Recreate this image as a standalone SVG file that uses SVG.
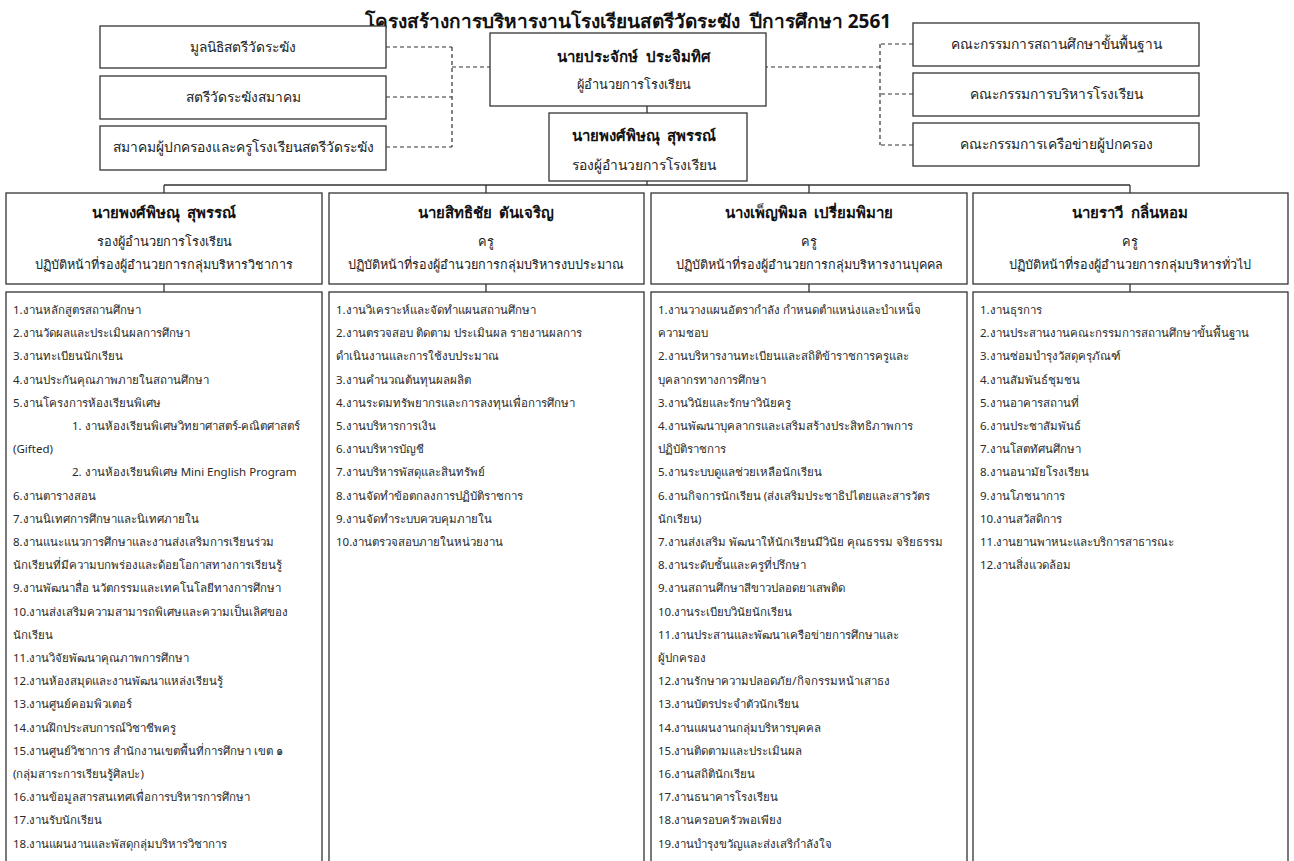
<svg xmlns="http://www.w3.org/2000/svg" width="1294" height="861" viewBox="0 0 1294 861">
<style>
.bx{fill:#fff;stroke:#333;stroke-width:1.3}
.ln{fill:none;stroke:#333;stroke-width:1.3}
.ds{fill:none;stroke:#333;stroke-width:1.2;stroke-dasharray:4 3}
text{font-family:"Noto Sans","DejaVu Sans",sans-serif;fill:#222}
.t{font-size:19px;font-weight:bold;text-anchor:middle;fill:#111}
.c{font-size:13.8px;text-anchor:middle}
.s{font-size:12.8px;text-anchor:middle}
.n{font-size:15px;font-weight:bold;text-anchor:middle;fill:#111}
.r{font-size:12.8px;text-anchor:middle}
.p{font-size:12.6px;text-anchor:middle}
.l{font-size:11.5px;fill:#2a2a2a}
</style>
<rect width="1294" height="861" fill="#fff"/>
<text class="t" x="628" y="28">โครงสร้างการบริหารงานโรงเรียนสตรีวัดระฆัง&#160; ปีการศึกษา 2561</text>

<g id="connectors">
<path class="ds" d="M386 47H452M386 97H452M386 147H452M452 47V147M452 67H490"/>
<path class="ds" d="M913 44H880M913 94H880M913 145H880M880 44V145M880 67H766"/>
<path class="ln" d="M647 106V113M647 181V185M164 185H1130M164 185V193M486 185V193M809 185V193M1130 185V193"/>
<path class="ln" d="M164 284V292M486 284V292M809 284V292M1130 284V292"/>
</g>

<g id="n-foundation"><rect class="bx" x="100" y="26" width="286" height="42"/><text class="c" x="243" y="52">มูลนิธิสตรีวัดระฆัง</text></g>
<g id="n-association"><rect class="bx" x="100" y="76" width="286" height="43"/><text class="c" x="243" y="102">สตรีวัดระฆังสมาคม</text></g>
<g id="n-parents"><rect class="bx" x="100" y="126" width="286" height="44"/><text class="c" x="243" y="152">สมาคมผู้ปกครองและครูโรงเรียนสตรีวัดระฆัง</text></g>

<g id="n-board1"><rect class="bx" x="913" y="23" width="286" height="43"/><text class="c" x="1056" y="49">คณะกรรมการสถานศึกษาขั้นพื้นฐาน</text></g>
<g id="n-board2"><rect class="bx" x="913" y="73" width="286" height="43"/><text class="c" x="1056" y="99">คณะกรรมการบริหารโรงเรียน</text></g>
<g id="n-board3"><rect class="bx" x="913" y="123" width="286" height="43"/><text class="c" x="1056" y="149">คณะกรรมการเครือข่ายผู้ปกครอง</text></g>

<g id="n-director"><rect class="bx" x="490" y="33" width="276" height="73"/><text class="n" x="634" y="62">นายประจักษ์&#160; ประจิมทิศ</text><text class="s" x="634" y="89">ผู้อำนวยการโรงเรียน</text></g>
<g id="n-deputy"><rect class="bx" x="549" y="113" width="198" height="68"/><text class="n" x="644" y="141">นายพงศ์พิษณุ&#160; สุพรรณ์</text><text class="c" x="644" y="170">รองผู้อำนวยการโรงเรียน</text></g>

<g id="n-head1"><rect class="bx" x="6" y="193" width="316" height="91"/><text class="n" x="164" y="218">นายพงศ์พิษณุ&#160; สุพรรณ์</text><text class="r" x="164" y="246">รองผู้อำนวยการโรงเรียน</text><text class="p" x="164" y="269">ปฏิบัติหน้าที่รองผู้อำนวยการกลุ่มบริหารวิชาการ</text></g>
<g id="n-head2"><rect class="bx" x="329" y="193" width="315" height="91"/><text class="n" x="486" y="218">นายสิทธิชัย&#160; ตันเจริญ</text><text class="r" x="486" y="246">ครู</text><text class="p" x="486" y="269">ปฏิบัติหน้าที่รองผู้อำนวยการกลุ่มบริหารงบประมาณ</text></g>
<g id="n-head3"><rect class="bx" x="651" y="193" width="316" height="91"/><text class="n" x="809" y="218">นางเพ็ญพิมล&#160; เปรี่ยมพิมาย</text><text class="r" x="809" y="246">ครู</text><text class="p" x="809" y="269">ปฏิบัติหน้าที่รองผู้อำนวยการกลุ่มบริหารงานบุคคล</text></g>
<g id="n-head4"><rect class="bx" x="973" y="193" width="315" height="91"/><text class="n" x="1130" y="218">นายราวี&#160; กลิ่นหอม</text><text class="r" x="1130" y="246">ครู</text><text class="p" x="1130" y="269">ปฏิบัติหน้าที่รองผู้อำนวยการกลุ่มบริหารทั่วไป</text></g>

<g id="n-list1"><rect class="bx" x="6" y="292" width="316" height="580"/>
<text class="l" x="13" y="314">1.งานหลักสูตรสถานศึกษา</text>
<text class="l" x="13" y="337.2">2.งานวัดผลและประเมินผลการศึกษา</text>
<text class="l" x="13" y="360.4">3.งานทะเบียนนักเรียน</text>
<text class="l" x="13" y="383.6">4.งานประกันคุณภาพภายในสถานศึกษา</text>
<text class="l" x="13" y="406.8">5.งานโครงการห้องเรียนพิเศษ</text>
<text class="l" x="72" y="430">1. งานห้องเรียนพิเศษวิทยาศาสตร์-คณิตศาสตร์</text>
<text class="l" x="13" y="453.2">(Gifted)</text>
<text class="l" x="72" y="476.4">2. งานห้องเรียนพิเศษ Mini English Program</text>
<text class="l" x="13" y="499.6">6.งานตารางสอน</text>
<text class="l" x="13" y="522.8">7.งานนิเทศการศึกษาและนิเทศภายใน</text>
<text class="l" x="13" y="546">8.งานแนะแนวการศึกษาและงานส่งเสริมการเรียนร่วม</text>
<text class="l" x="13" y="569.2">นักเรียนที่มีความบกพร่องและด้อยโอกาสทางการเรียนรู้</text>
<text class="l" x="13" y="592.4">9.งานพัฒนาสื่อ นวัตกรรมและเทคโนโลยีทางการศึกษา</text>
<text class="l" x="13" y="615.6">10.งานส่งเสริมความสามารถพิเศษและความเป็นเลิศของ</text>
<text class="l" x="13" y="638.8">นักเรียน</text>
<text class="l" x="13" y="662">11.งานวิจัยพัฒนาคุณภาพการศึกษา</text>
<text class="l" x="13" y="685.2">12.งานห้องสมุดและงานพัฒนาแหล่งเรียนรู้</text>
<text class="l" x="13" y="708.4">13.งานศูนย์คอมพิวเตอร์</text>
<text class="l" x="13" y="731.6">14.งานฝึกประสบการณ์วิชาชีพครู</text>
<text class="l" x="13" y="754.8">15.งานศูนย์วิชาการ สำนักงานเขตพื้นที่การศึกษา เขต ๑</text>
<text class="l" x="13" y="778">(กลุ่มสาระการเรียนรู้ศิลปะ)</text>
<text class="l" x="13" y="801.2">16.งานข้อมูลสารสนเทศเพื่อการบริหารการศึกษา</text>
<text class="l" x="13" y="824.4">17.งานรับนักเรียน</text>
<text class="l" x="13" y="847.6">18.งานแผนงานและพัสดุกลุ่มบริหารวิชาการ</text>
</g>

<g id="n-list2"><rect class="bx" x="329" y="292" width="315" height="580"/>
<text class="l" x="336" y="314">1.งานวิเคราะห์และจัดทำแผนสถานศึกษา</text>
<text class="l" x="336" y="337.2">2.งานตรวจสอบ ติดตาม ประเมินผล รายงานผลการ</text>
<text class="l" x="336" y="360.4">ดำเนินงานและการใช้งบประมาณ</text>
<text class="l" x="336" y="383.6">3.งานคำนวณต้นทุนผลผลิต</text>
<text class="l" x="336" y="406.8">4.งานระดมทรัพยากรและการลงทุนเพื่อการศึกษา</text>
<text class="l" x="336" y="430">5.งานบริหารการเงิน</text>
<text class="l" x="336" y="453.2">6.งานบริหารบัญชี</text>
<text class="l" x="336" y="476.4">7.งานบริหารพัสดุและสินทรัพย์</text>
<text class="l" x="336" y="499.6">8.งานจัดทำข้อตกลงการปฏิบัติราชการ</text>
<text class="l" x="336" y="522.8">9.งานจัดทำระบบควบคุมภายใน</text>
<text class="l" x="336" y="546">10.งานตรวจสอบภายในหน่วยงาน</text>
</g>

<g id="n-list3"><rect class="bx" x="651" y="292" width="316" height="580"/>
<text class="l" x="658" y="314">1.งานวางแผนอัตรากำลัง กำหนดตำแหน่งและบำเหน็จ</text>
<text class="l" x="658" y="337.2">ความชอบ</text>
<text class="l" x="658" y="360.4">2.งานบริหารงานทะเบียนและสถิติข้าราชการครูและ</text>
<text class="l" x="658" y="383.6">บุคลากรทางการศึกษา</text>
<text class="l" x="658" y="406.8">3.งานวินัยและรักษาวินัยครู</text>
<text class="l" x="658" y="430">4.งานพัฒนาบุคลากรและเสริมสร้างประสิทธิภาพการ</text>
<text class="l" x="658" y="453.2">ปฏิบัติราชการ</text>
<text class="l" x="658" y="476.4">5.งานระบบดูแลช่วยเหลือนักเรียน</text>
<text class="l" x="658" y="499.6">6.งานกิจการนักเรียน (ส่งเสริมประชาธิปไตยและสารวัตร</text>
<text class="l" x="658" y="522.8">นักเรียน)</text>
<text class="l" x="658" y="546">7.งานส่งเสริม พัฒนาให้นักเรียนมีวินัย คุณธรรม จริยธรรม</text>
<text class="l" x="658" y="569.2">8.งานระดับชั้นและครูที่ปรึกษา</text>
<text class="l" x="658" y="592.4">9.งานสถานศึกษาสีขาวปลอดยาเสพติด</text>
<text class="l" x="658" y="615.6">10.งานระเบียบวินัยนักเรียน</text>
<text class="l" x="658" y="638.8">11.งานประสานและพัฒนาเครือข่ายการศึกษาและ</text>
<text class="l" x="658" y="662">ผู้ปกครอง</text>
<text class="l" x="658" y="685.2">12.งานรักษาความปลอดภัย/กิจกรรมหน้าเสาธง</text>
<text class="l" x="658" y="708.4">13.งานบัตรประจำตัวนักเรียน</text>
<text class="l" x="658" y="731.6">14.งานแผนงานกลุ่มบริหารบุคคล</text>
<text class="l" x="658" y="754.8">15.งานติดตามและประเมินผล</text>
<text class="l" x="658" y="778">16.งานสถิตินักเรียน</text>
<text class="l" x="658" y="801.2">17.งานธนาคารโรงเรียน</text>
<text class="l" x="658" y="824.4">18.งานครอบครัวพอเพียง</text>
<text class="l" x="658" y="847.6">19.งานบำรุงขวัญและส่งเสริกำลังใจ</text>
</g>

<g id="n-list4"><rect class="bx" x="973" y="292" width="315" height="580"/>
<text class="l" x="980" y="314">1.งานธุรการ</text>
<text class="l" x="980" y="337.2">2.งานประสานงานคณะกรรมการสถานศึกษาขั้นพื้นฐาน</text>
<text class="l" x="980" y="360.4">3.งานซ่อมบำรุงวัสดุครุภัณฑ์</text>
<text class="l" x="980" y="383.6">4.งานสัมพันธ์ชุมชน</text>
<text class="l" x="980" y="406.8">5.งานอาคารสถานที่</text>
<text class="l" x="980" y="430">6.งานประชาสัมพันธ์</text>
<text class="l" x="980" y="453.2">7.งานโสตทัศนศึกษา</text>
<text class="l" x="980" y="476.4">8.งานอนามัยโรงเรียน</text>
<text class="l" x="980" y="499.6">9.งานโภชนาการ</text>
<text class="l" x="980" y="522.8">10.งานสวัสดิการ</text>
<text class="l" x="980" y="546">11.งานยานพาหนะและบริการสาธารณะ</text>
<text class="l" x="980" y="569.2">12.งานสิ่งแวดล้อม</text>
</g>
</svg>
